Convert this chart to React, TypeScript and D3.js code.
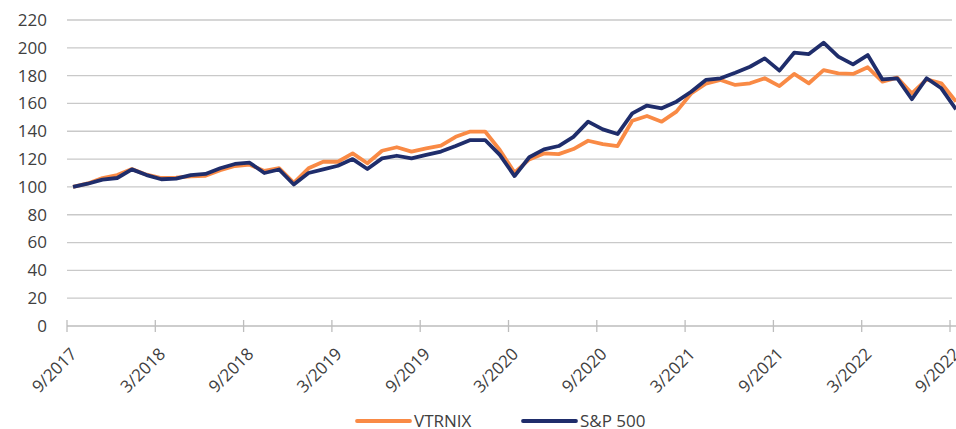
import React from "react";
import * as d3 from "d3";

const tickLabels = ["9/2017","3/2018","9/2018","3/2019","9/2019","3/2020","9/2020","3/2021","9/2021","3/2022","9/2022"];
const yTicks = [0,20,40,60,80,100,120,140,160,180,200,220];

const vtrnix = [
  100, 102.5, 106.4, 108.5, 112.8, 108.8, 106.4, 106.6, 107.5, 108, 112, 115, 116,
  111.5, 113.5, 103, 113.4, 118.1, 118.1, 124.1, 117, 126, 128.5, 125.4, 127.7,
  129.7, 136, 139.8, 139.8, 126.5, 110.3, 119.8, 124.1, 123.6, 127.2, 133.2, 130.8,
  129.4, 147.6, 151, 146.9, 154.1, 167.2, 174.3, 176.9, 173.3, 174.5, 178.1, 172.5,
  181.2, 174.5, 184, 181.6, 181.2, 186, 175.7, 178.6, 167.2, 177.3, 174.5, 161.3
];
const sp500 = [
  100, 102.3, 105.2, 106.4, 112.6, 108.5, 105.5, 105.9, 108.5, 109.3, 113.4, 116.5, 117.4,
  110, 112.5, 101.7, 110, 112.6, 115.2, 120, 112.9, 120.5, 122.4, 120.5, 123,
  125.4, 129.4, 133.7, 133.7, 123, 107.8, 121.3, 127, 129.4, 136, 146.9, 141.4,
  138, 152.9, 158.5, 156.5, 161.3, 168.4, 176.9, 178.1, 182.1, 186.4, 192.4, 183.6,
  196.5, 195.5, 203.7, 193.7, 188.1, 194.8, 177.3, 178.1, 163, 178.1, 170.9, 155.8
];
const seriesNames = ["VTRNIX", "S&P 500"];
const colors = ["#F98A45", "#1F2D6B"];

const W = 956, H = 429;
const FONT = "'Open Sans', sans-serif";

export default function App() {
  const x = d3.scaleLinear().domain([0, 60]).range([67, 950]);
  const y = d3.scaleLinear().domain([0, 220]).range([326, 20]);
  const offset = 0.41;
  const line = d3.line<number>().x((_, i) => x(i + offset)).y(d => y(d));
  const grid = yTicks.filter(t => t > 0);
  return (
    <svg width={W} height={H} style={{ position: "absolute", left: 0, top: 0, background: "#fff" }}>
      {grid.map(t => (
        <line key={t} x1={x(0)} x2={x(60) + 2} y1={y(t)} y2={y(t)} stroke="#C9C9C9" strokeWidth={1.3} />
      ))}
      <line x1={x(0)} x2={x(60) + 6} y1={y(0)} y2={y(0)} stroke="#BDBDBD" strokeWidth={1.3} />
      {tickLabels.map((_, k) => (
        <line key={k} x1={x(k * 6)} x2={x(k * 6)} y1={y(0) - 6} y2={y(0) + 6} stroke="#BDBDBD" strokeWidth={1.3} />
      ))}
      {yTicks.map(t => (
        <text key={t} x={47} y={y(t)} dy="0.35em" textAnchor="end" fontFamily={FONT} fontSize={17} fill="#404040">{t}</text>
      ))}
      {tickLabels.map((lab, k) => (
        <text key={lab} transform={`translate(${x(k * 6) + 11},${y(0) + 29}) rotate(-45)`} textAnchor="end" fontFamily={FONT} fontSize={17} fill="#404040">{lab}</text>
      ))}
      <path d={line(vtrnix) || ""} fill="none" stroke={colors[0]} strokeWidth={3.8} strokeLinejoin="round" />
      <path d={line(sp500) || ""} fill="none" stroke={colors[1]} strokeWidth={3.8} strokeLinejoin="round" />
      {seriesNames.map((n, i) => {
        const lx = i === 0 ? 357 : 523;
        return (
          <g key={n}>
            <line x1={lx} x2={lx + 53} y1={421} y2={421} stroke={colors[i]} strokeWidth={3.8} strokeLinecap="round" />
            <text x={lx + 57} y={421} dy="0.35em" fontFamily={FONT} fontSize={17} fill="#404040">{n}</text>
          </g>
        );
      })}
    </svg>
  );
}
